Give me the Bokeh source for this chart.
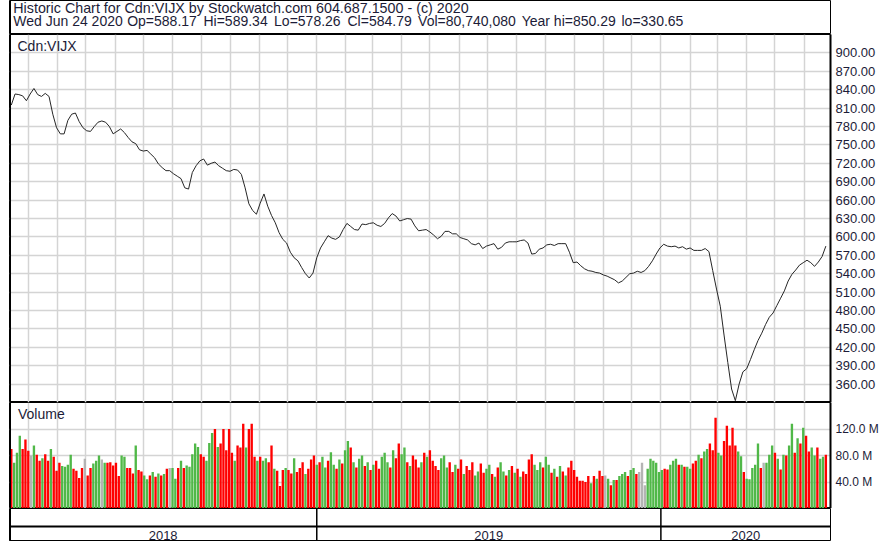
from datetime import datetime, timedelta
import pandas as pd
from bokeh.plotting import figure
from bokeh.layouts import column
from bokeh.models import (FixedTicker, PrintfTickFormatter, Range1d, Label,
                          Span, MonthsTicker)
from bokeh.embed import file_html
from bokeh.resources import INLINE
from bokeh.core.properties import value

# ---------------- data ----------------
HEADER_1 = "Historic Chart for Cdn:VIJX by Stockwatch.com 604.687.1500 - (c) 2020"
HEADER_2 = ["Wed Jun 24 2020", "Op=588.17", "Hi=589.34", "Lo=578.26",
            "Cl=584.79", "Vol=80,740,080", "Year hi=850.29", "lo=330.65"]
SYMBOL = "Cdn:VIJX"
VOLUME_TITLE = "Volume"
LAST_DATE = "2020-06-24"

PRICE_STEP_DAYS = 4
close = [
    815, 833, 832, 830, 822, 833, 842, 832, 829, 834,
    829, 800, 778, 768, 768, 790, 800, 802, 788, 778,
    773, 772, 780, 787, 789, 787, 780, 768, 772, 776,
    770, 762, 755, 752, 742, 740, 741, 735, 729, 719,
    713, 708, 708, 703, 699, 695, 680, 678, 705, 716,
    724, 727, 717, 720, 722, 716, 712, 708, 707, 710,
    709, 702, 680, 654, 643, 637, 655, 670, 650, 635,
    623, 607, 596, 590, 575, 566, 561, 550, 540, 533,
    541, 566, 582, 592, 602, 598, 596, 600, 612, 622,
    617, 612, 611, 621, 620, 622, 623, 619, 617, 622,
    631, 638, 634, 626, 628, 630, 629, 618, 610, 611,
    612, 608, 603, 597, 601, 609, 609, 605, 605, 599,
    597, 595, 589, 587, 590, 581, 585, 587, 589, 580,
    583, 590, 592, 592, 592, 594, 595, 590, 572, 573,
    580, 582, 587, 588, 586, 589, 589, 589, 575, 558,
    559, 553, 548, 545, 544, 542, 541, 538, 536, 533,
    530, 525, 528, 534, 540, 541, 544, 542, 545, 552,
    561, 572, 582, 588, 585, 584, 585, 582, 584, 580,
    582, 578, 578, 578, 581, 576, 545, 515, 487, 440,
    395, 352, 333, 360, 380, 385, 400, 416, 431, 443,
    457, 469, 476, 488, 500, 512, 528, 539, 546, 554,
    558, 562, 558, 552, 559, 568, 585,
]

VOL_STEP_DAYS = 3
volume_m = [
    90, 69, 84, 110, 90, 104, 87, 80, 95, 81,
    72, 76, 82, 72, 90, 78, 57, 69, 64, 63,
    66, 81, 60, 57, 46, 61, 75, 50, 61, 68,
    72, 80, 74, 69, 69, 70, 65, 69, 49, 80,
    78, 61, 61, 53, 95, 58, 56, 50, 44, 50,
    55, 48, 53, 50, 52, 60, 61, 61, 45, 61,
    72, 61, 65, 63, 82, 98, 93, 82, 78, 72,
    99, 114, 120, 93, 98, 120, 88, 120, 84, 72,
    95, 92, 128, 92, 120, 128, 78, 72, 78, 72,
    76, 70, 95, 60, 57, 34, 58, 61, 58, 53,
    76, 55, 61, 70, 52, 60, 74, 80, 66, 70,
    78, 62, 72, 85, 66, 60, 74, 68, 88, 102,
    92, 70, 62, 75, 80, 64, 70, 58, 66, 72,
    60, 78, 84, 70, 62, 88, 76, 98, 82, 92,
    70, 64, 80, 74, 62, 70, 84, 78, 88, 72,
    64, 58, 76, 80, 62, 70, 55, 66, 60, 74,
    52, 64, 58, 70, 50, 56, 68, 54, 60, 66,
    52, 48, 62, 70, 56, 50, 58, 64, 54, 60,
    48, 56, 52, 74, 82, 66, 58, 70, 62, 78,
    66, 54, 60, 48, 64, 56, 50, 62, 72, 58,
    48, 42, 42, 40, 49, 38, 49, 45, 57, 49,
    50, 45, 35, 43, 43, 49, 52, 55, 49, 58,
    61, 52, 55, 69, 35, 60, 75, 72, 69, 55,
    58, 60, 59, 66, 72, 75, 66, 66, 63, 63,
    60, 68, 72, 81, 76, 86, 90, 98, 88, 137,
    84, 80, 102, 125, 95, 122, 95, 86, 79, 55,
    45, 44, 61, 66, 98, 61, 69, 69, 81, 95,
    84, 75, 59, 81, 80, 95, 128, 84, 106, 98,
    122, 110, 86, 92, 80, 92, 75, 78, 81,
]
# R = down day, G = up day, K = unchanged
vol_dir = ("RGGGRRRKGR" "RGRRGRRRGG" "GGRRRRKRRG" "GGKGRRRRRG" "GRRRGRRGGR"
           "GRGRGRKGGR" "GRGGGGGRRG" "GGRGRRRRRG" "RRRGRRRGRG" "GRRGRRRGRR"
           "GRRRGRRRGR" "GGRGGRGRGG" "RGRGGRGRGR" "RGGGRGRRGG" "RGRRRGRGRR"
           "RRGGGRRGRR" "GRRRGGRRGG" "RGRGGRGRGR" "GRRRRGGGRG" "GRGRGRGRRR"
           "RRRRRGRGRR" "KGRGRGGGRG" "GRKKKGGGGG" "GRRGGGRGRG" "GRRGRGGRRR"
           "GGRRRRRGGR" "GGGGGRKGGG" "RGRGRGGRGR" "GRRGGRGGR")

price_ticks = [360, 390, 420, 450, 480, 510, 540, 570, 600, 630, 660, 690,
               720, 750, 780, 810, 840, 870, 900]
volume_ticks = [40, 80, 120]
years = ["2018", "2019", "2020"]

# ---------------- style / layout ----------------
FONT = "Liberation Sans"
TXT = "#1c1c38"
GRID = "#d4d4d4"
DIR_COLORS = {"R": "#ff0000", "G": "#50b848", "K": "#b4b4b4"}
W = 873
RB = 49
HEADER_2_X = [13, 134, 215, 290, 368, 443, 553, 659]   # page x of each field

price_dates = pd.date_range(end=LAST_DATE, periods=len(close), freq=f"{PRICE_STEP_DAYS}D")
vol_dates = pd.date_range(end=LAST_DATE, periods=len(volume_m), freq=f"{VOL_STEP_DAYS}D")
bar_colors = [DIR_COLORS[c] for c in vol_dir]

x_start = pd.Timestamp(datetime(2018, 2, 9, 2))
x_end = pd.Timestamp(datetime(2020, 6, 28, 22))
xr = Range1d(x_start, x_end)


def ms(ts):
    return pd.Timestamp(ts).value / 1e6


def panel(height, yr, axis=True):
    p = figure(width=W, height=height, x_range=xr, y_range=yr,
               x_axis_type="datetime", x_axis_location=None,
               y_axis_location="right" if axis else None,
               toolbar_location=None, output_backend="svg", title=None,
               min_border=0, min_border_right=RB, min_border_left=1)
    p.outline_line_color = "black"
    p.outline_line_width = 1
    p.background_fill_color = "white"
    p.border_fill_color = "white"
    p.add_layout(Span(location=ms(x_start), dimension="height",
                      line_color="black", line_width=3))
    return p


def style_axis(ax, ticks, fmt, size):
    ax.ticker = FixedTicker(ticks=ticks)
    ax.formatter = PrintfTickFormatter(format=fmt)
    ax.major_tick_in = 0
    ax.major_tick_out = 0
    ax.minor_tick_line_color = None
    ax.axis_line_color = "black"
    ax.axis_line_width = 2
    ax.major_label_standoff = 5
    ax.major_label_text_font = FONT
    ax.major_label_text_font_size = size
    ax.major_label_text_color = TXT


def style_grid(p, ticks):
    p.xgrid.ticker = MonthsTicker(months=list(range(12)))
    p.ygrid.ticker = FixedTicker(ticks=ticks)
    for g in (p.xgrid, p.ygrid):
        g.grid_line_color = GRID
        g.grid_line_width = 1.5


# header (data x == page x)
hdr = figure(width=W, height=34, x_range=Range1d(9, 881), y_range=Range1d(0, 34),
             x_axis_location=None, y_axis_location=None, toolbar_location=None,
             output_backend="svg", title=None, min_border=0, min_border_left=1)
hdr.grid.visible = False
hdr.outline_line_color = "black"
hdr.add_layout(Span(location=9, dimension="height", line_color="black", line_width=3))
hdr.add_layout(Label(x=13, y=26.5, text=HEADER_1, text_font=FONT, text_font_size="14.3px",
                     text_color=TXT, text_baseline="middle"))
for txt, xx in zip(HEADER_2, HEADER_2_X):
    hdr.add_layout(Label(x=xx, y=13.5, text=txt, text_font=FONT, text_font_size="14px",
                         text_color=TXT, text_baseline="middle"))

# price panel
pp = panel(368, Range1d(330, 930))
style_grid(pp, price_ticks)
style_axis(pp.yaxis[0], price_ticks, "%.2f", "13px")
pp.line(price_dates, close, line_color="#262626", line_width=1)
pp.add_layout(Label(x=ms(x_start + timedelta(days=8.5)), y=910.5, text=SYMBOL,
                    text_font=FONT, text_font_size="14px", text_color=TXT,
                    text_baseline="middle"))

# volume panel
vp = panel(106, Range1d(0, 160))
style_grid(vp, volume_ticks)
style_axis(vp.yaxis[0], volume_ticks, "%.1f M", "12px")
vp.vbar(x=vol_dates, top=volume_m, bottom=0, width=2.5 * 86400000,
        fill_color=bar_colors, line_color=None)
vp.add_layout(Label(x=ms(x_start + timedelta(days=9)), y=142, text=VOLUME_TITLE,
                    text_font=FONT, text_font_size="14px", text_color=TXT,
                    text_baseline="middle"))

# date axis panel
dp = panel(33, Range1d(0, 33), axis=False)
dp.grid.visible = False
bounds = [pd.Timestamp(f"{y}-01-01") for y in years[1:]]
dp.segment(x0=bounds, y0=[0] * len(bounds), x1=bounds, y1=[33] * len(bounds),
           line_color="black", line_width=1.5)
dp.add_layout(Span(location=15, dimension="width", line_color="black", line_width=2))
centers = []
for y in years:
    s = max(pd.Timestamp(f"{y}-01-01"), x_start)
    e = min(pd.Timestamp(f"{int(y) + 1}-01-01"), x_end)
    centers.append(s + (e - s) / 2)
dp.text(x=centers, y=[6.5] * len(years), text=years, text_align="center",
        text_baseline="middle", text_font=value(FONT), text_font_size="13px",
        text_color=TXT)

layout = column(hdr, pp, vp, dp, spacing=0, styles={"margin-left": "8px"})

open("out.html", "w").write(file_html(layout, INLINE))
